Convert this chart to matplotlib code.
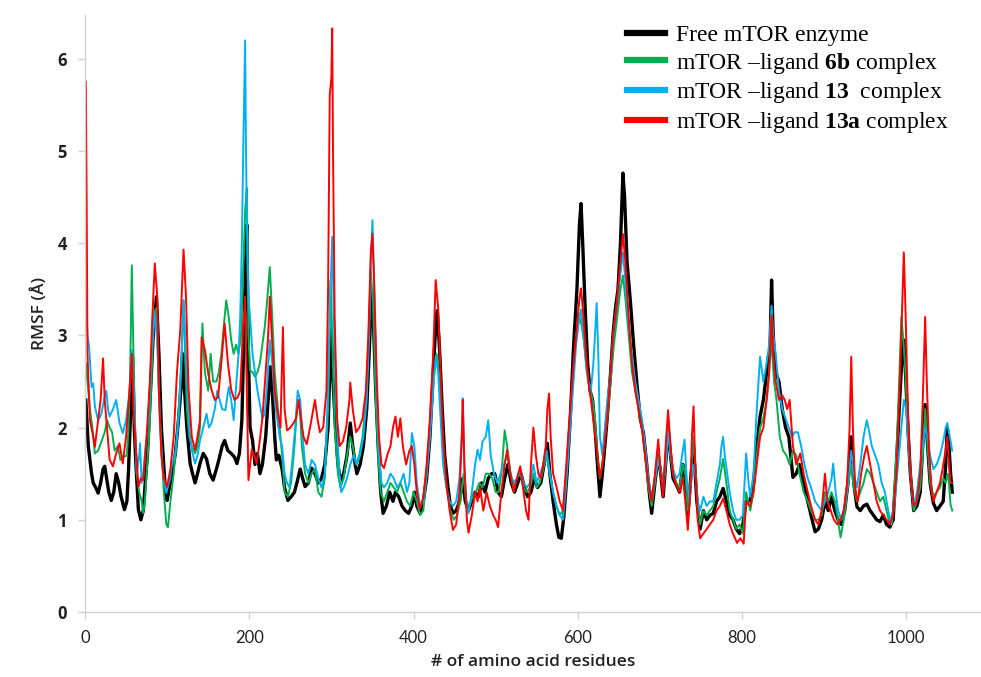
import matplotlib
matplotlib.use("Agg")
import matplotlib.pyplot as plt

# RMSF per residue as (residue, RMSF in Å)
free_pts = [(1,2.3),(4,1.8),(8,1.5),(10,1.4),(13,1.35),(16,1.29),(19,1.4),(22,1.55),(24,1.58),(26,1.47),(29,1.3),(32,1.21),(35,1.3),(38,1.5),(41,1.4),(44,1.25),(48,1.11),(51,1.2),(53,1.54),(56,2.26),(58,2.77),(60,2.0),(62,1.6),(65,1.11),(68,1.0),(71,1.1),(73,1.36),(76,1.7),(79,2.26),(83,2.99),(87,3.42),(90,2.8),(93,2.0),(95,1.72),(98,1.3),(100,1.21),(103,1.36),(106,1.5),(110,1.72),(114,2.1),(117,2.44),(119,2.8),(121,2.44),(124,2.0),(128,1.61),(131,1.5),(134,1.4),(137,1.5),(140,1.61),(144,1.72),(148,1.66),(152,1.5),(156,1.43),(160,1.55),(163,1.65),(167,1.8),(170,1.86),(174,1.75),(178,1.72),(182,1.68),(185,1.61),(188,1.72),(191,2.08),(193,2.8),(195,3.6),(197,4.2),(199,2.8),(201,2.0),(204,1.86),(207,1.6),(210,1.72),(213,1.5),(216,1.6),(220,1.9),(223,2.3),(226,2.66),(228,2.4),(231,1.9),(233,1.65),(236,1.7),(240,1.55),(243,1.35),(247,1.21),(251,1.25),(255,1.3),(258,1.4),(262,1.55),(265,1.45),(268,1.36),(272,1.4),(276,1.56),(280,1.5),(284,1.4),(288,1.45),(292,1.6),(296,2.0),(298,2.6),(300,3.06),(302,2.5),(305,2.0),(308,1.6),(311,1.43),(315,1.5),(319,1.7),(323,2.05),(326,1.8),(329,1.6),(331,1.5),(335,1.6),(339,1.8),(343,2.2),(346,2.8),(349,3.5),(351,3.2),(354,2.4),(357,1.8),(360,1.3),(363,1.07),(367,1.15),(371,1.3),(375,1.2),(378,1.3),(382,1.25),(386,1.15),(390,1.1),(394,1.07),(398,1.15),(401,1.3),(404,1.15),(408,1.07),(412,1.2),(416,1.45),(420,1.9),(424,2.6),(427,3.1),(429,3.27),(432,2.8),(435,2.2),(438,1.7),(442,1.35),(445,1.15),(448,1.07),(452,1.1),(456,1.2),(460,1.45),(463,1.2),(467,1.1),(471,1.2),(475,1.3),(479,1.25),(483,1.4),(487,1.3),(491,1.45),(495,1.5),(499,1.5),(503,1.3),(507,1.25),(511,1.45),(515,1.6),(519,1.4),(523,1.3),(527,1.4),(531,1.5),(535,1.35),(539,1.25),(543,1.3),(547,1.45),(551,1.35),(555,1.4),(559,1.6),(563,1.83),(566,1.5),(570,1.2),(574,0.95),(577,0.81),(580,0.8),(583,1.03),(587,1.5),(591,2.12),(595,2.9),(599,3.5),(602,4.2),(604,4.43),(606,4.0),(609,3.3),(612,2.7),(615,2.4),(618,2.3),(621,2.0),(624,1.6),(627,1.25),(630,1.5),(633,1.8),(636,2.12),(640,2.6),(643,3.02),(646,3.3),(649,3.5),(652,4.0),(655,4.76),(657,4.5),(660,3.8),(664,3.38),(668,2.9),(672,2.48),(676,2.1),(680,1.94),(684,1.6),(687,1.3),(690,1.07),(694,1.4),(698,1.7),(701,1.5),(704,1.25),(707,1.6),(710,2.0),(713,1.7),(716,1.45),(720,1.38),(724,1.3),(728,1.6),(731,1.45),(734,1.05),(738,1.5),(741,1.8),(745,1.2),(749,0.9),(753,1.1),(757,1.0),(761,1.05),(765,1.07),(769,1.2),(773,1.25),(777,1.34),(781,1.2),(785,1.05),(789,1.0),(793,0.9),(797,0.85),(801,0.95),(805,1.2),(810,1.21),(814,1.4),(818,1.8),(822,2.12),(826,2.3),(830,2.6),(832,2.77),(834,2.8),(836,3.6),(838,3.0),(841,2.6),(845,2.5),(849,2.2),(853,2.0),(857,1.9),(862,1.46),(866,1.5),(870,1.6),(875,1.4),(880,1.2),(884,1.05),(889,0.87),(893,0.9),(897,1.0),(901,1.2),(905,1.1),(909,1.25),(913,1.1),(917,1.0),(921,0.95),(925,1.1),(929,1.4),(933,1.9),(936,1.4),(940,1.14),(944,1.1),(948,1.15),(952,1.17),(956,1.1),(960,1.05),(964,1.0),(968,0.98),(972,1.05),(976,0.95),(980,0.92),(984,1.0),(988,1.6),(992,2.3),(995,2.8),(997,2.95),(999,2.6),(1002,2.0),(1005,1.5),(1009,1.1),(1013,1.15),(1017,1.3),(1020,1.8),(1023,2.25),(1026,1.8),(1029,1.4),(1033,1.18),(1037,1.1),(1041,1.15),(1045,1.2),(1048,1.6),(1050,2.0),(1052,1.8),(1054,1.5),(1056,1.3)]

lig6b_pts = [(1,2.7),(3,2.5),(6,2.2),(9,2.0),(12,1.72),(16,1.75),(20,1.85),(24,1.95),(27,2.08),(30,2.0),(33,1.95),(36,1.75),(40,1.8),(43,1.65),(47,1.68),(51,1.7),(53,2.0),(55,2.6),(57,3.76),(59,2.8),(61,2.0),(63,1.5),(66,1.3),(69,1.2),(71,1.07),(73,1.2),(75,1.5),(79,2.08),(84,3.24),(87,3.3),(90,2.4),(93,1.8),(96,1.3),(99,0.95),(101,0.92),(104,1.2),(108,1.5),(112,1.9),(116,2.5),(118,2.9),(120,3.38),(122,2.8),(124,2.2),(127,1.9),(130,1.8),(134,1.72),(137,1.8),(140,2.0),(143,3.13),(146,2.6),(150,2.4),(153,2.8),(156,2.5),(160,2.5),(163,2.6),(166,2.8),(169,3.1),(172,3.38),(175,3.2),(178,2.95),(181,2.8),(184,2.9),(187,2.8),(190,3.0),(193,3.8),(195,4.35),(197,4.6),(199,3.0),(201,2.62),(204,2.6),(207,2.55),(210,2.6),(213,2.7),(216,2.9),(219,3.1),(222,3.4),(225,3.74),(228,3.2),(231,2.6),(234,2.3),(237,2.0),(240,1.7),(243,1.3),(247,1.25),(251,1.4),(255,1.8),(258,2.2),(261,2.3),(264,1.8),(268,1.5),(272,1.4),(276,1.5),(280,1.55),(284,1.3),(288,1.25),(292,1.45),(296,2.2),(299,3.6),(301,3.0),(304,2.0),(308,1.5),(311,1.35),(315,1.45),(319,1.7),(323,1.9),(326,1.8),(330,1.6),(334,1.7),(338,1.9),(342,2.3),(345,2.9),(348,3.7),(351,3.3),(354,2.3),(357,1.7),(360,1.3),(364,1.2),(368,1.3),(372,1.4),(376,1.35),(380,1.3),(384,1.4),(388,1.3),(392,1.2),(396,1.15),(400,1.3),(404,1.2),(408,1.05),(412,1.1),(416,1.5),(420,2.0),(424,2.5),(428,2.8),(431,2.6),(434,2.1),(437,1.6),(441,1.3),(445,1.1),(449,1.0),(453,1.05),(457,1.2),(461,1.5),(464,1.2),(468,1.15),(472,1.25),(476,1.3),(480,1.4),(484,1.35),(488,1.5),(492,1.5),(496,1.45),(500,1.3),(504,1.3),(508,1.6),(511,1.97),(514,1.8),(518,1.5),(522,1.35),(526,1.45),(530,1.5),(534,1.35),(538,1.3),(542,1.35),(546,1.5),(550,1.35),(554,1.4),(558,1.55),(562,1.7),(566,1.5),(570,1.3),(574,1.15),(578,1.05),(582,1.1),(586,1.5),(590,2.0),(594,2.5),(598,3.0),(602,3.2),(605,3.1),(608,2.9),(611,2.6),(614,2.45),(618,2.3),(621,2.1),(624,1.7),(627,1.45),(630,1.6),(633,1.9),(636,2.1),(640,2.5),(644,2.9),(648,3.2),(652,3.5),(655,3.65),(658,3.4),(662,3.0),(666,2.6),(670,2.4),(674,2.2),(678,2.0),(682,1.7),(686,1.35),(690,1.15),(694,1.4),(698,1.7),(701,1.55),(704,1.3),(707,1.6),(710,2.0),(713,1.7),(716,1.5),(720,1.4),(724,1.35),(728,1.6),(731,1.5),(734,1.1),(738,1.5),(741,1.9),(745,1.3),(749,0.95),(753,1.1),(757,1.05),(761,1.1),(765,1.15),(769,1.3),(773,1.45),(777,1.66),(781,1.4),(785,1.1),(789,1.0),(793,0.9),(797,0.95),(801,0.85),(805,1.3),(810,1.1),(814,1.3),(818,1.7),(822,2.0),(826,2.1),(830,2.3),(833,2.6),(836,2.94),(839,2.5),(842,2.3),(846,1.9),(850,1.75),(854,1.7),(858,1.6),(862,1.75),(866,1.7),(870,1.5),(875,1.3),(880,1.2),(884,1.1),(889,1.0),(893,1.0),(897,1.05),(901,1.3),(905,1.2),(909,1.3),(913,1.2),(917,1.0),(920,0.81),(924,1.0),(928,1.3),(933,1.6),(936,1.35),(940,1.2),(944,1.3),(948,1.4),(952,1.55),(956,1.5),(960,1.4),(964,1.3),(968,1.2),(972,1.25),(976,1.1),(980,0.95),(984,1.1),(988,1.73),(991,2.4),(994,3.2),(996,3.0),(999,2.6),(1002,1.9),(1005,1.5),(1009,1.1),(1013,1.2),(1017,1.35),(1020,1.7),(1023,2.2),(1026,1.8),(1029,1.4),(1033,1.25),(1037,1.3),(1041,1.35),(1045,1.45),(1048,1.4),(1051,1.5),(1054,1.16),(1056,1.1)]

lig13_pts = [(1,3.46),(3,3.0),(5,2.88),(8,2.44),(10,2.48),(12,2.23),(16,2.08),(20,2.15),(23,2.3),(26,2.4),(28,2.2),(30,2.12),(34,2.2),(38,2.3),(42,2.05),(46,1.94),(50,2.08),(54,2.37),(57,2.84),(59,2.44),(63,1.5),(66,1.7),(67,1.83),(69,1.4),(71,1.5),(73,1.72),(77,2.08),(81,2.8),(85,3.24),(88,2.95),(91,2.08),(94,1.6),(96,1.45),(99,1.29),(103,1.43),(106,1.6),(110,1.72),(114,2.1),(117,2.6),(120,3.38),(123,2.8),(127,2.0),(130,1.76),(134,1.61),(137,1.7),(140,1.86),(144,2.0),(148,2.15),(151,2.0),(154,2.05),(158,2.2),(161,2.4),(164,2.3),(167,2.2),(171,2.19),(175,2.44),(178,2.3),(181,2.08),(184,2.45),(187,2.8),(189,3.2),(191,4.0),(193,5.2),(195,6.2),(196,5.0),(197,4.34),(199,3.4),(201,3.2),(204,2.8),(207,2.6),(210,2.4),(213,2.25),(216,2.1),(219,2.15),(222,2.5),(225,2.95),(228,2.7),(231,2.3),(234,2.1),(237,1.9),(240,1.8),(243,1.5),(246,1.4),(249,1.35),(252,1.6),(256,2.0),(259,2.4),(262,2.3),(265,1.9),(268,1.6),(272,1.5),(276,1.65),(280,1.6),(284,1.45),(288,1.35),(292,1.5),(296,2.4),(299,3.5),(301,4.07),(303,3.2),(306,2.2),(309,1.6),(312,1.3),(315,1.35),(319,1.45),(323,1.6),(327,1.7),(331,1.6),(335,1.7),(339,1.9),(343,2.3),(346,3.0),(348,3.8),(350,4.25),(352,3.6),(355,2.5),(358,1.7),(361,1.4),(364,1.35),(368,1.4),(372,1.5),(376,1.45),(380,1.35),(384,1.4),(388,1.5),(392,1.3),(395,1.4),(398,1.94),(401,1.8),(404,1.4),(408,1.15),(412,1.2),(416,1.5),(420,1.9),(424,2.4),(427,2.77),(430,2.6),(433,2.1),(436,1.6),(440,1.35),(444,1.2),(448,1.15),(452,1.2),(456,1.45),(459,2.0),(460,2.32),(462,1.5),(465,1.15),(467,1.07),(471,1.3),(475,1.6),(478,1.76),(481,1.65),(484,1.85),(488,1.9),(491,2.08),(494,1.7),(498,1.5),(502,1.4),(506,1.5),(510,1.6),(514,1.7),(518,1.5),(522,1.4),(526,1.45),(530,1.55),(534,1.4),(538,1.35),(542,1.4),(546,1.6),(550,1.4),(554,1.5),(558,1.6),(562,1.75),(566,1.5),(570,1.3),(574,1.15),(578,1.05),(582,1.0),(586,1.4),(590,1.9),(594,2.4),(598,2.9),(602,3.2),(604,3.28),(607,3.0),(610,2.7),(613,2.5),(616,2.4),(619,2.7),(621,3.0),(623,3.35),(625,2.8),(627,1.9),(630,1.7),(633,2.0),(636,2.3),(640,2.6),(643,3.0),(647,3.3),(651,3.6),(655,3.9),(658,3.6),(662,3.1),(666,2.8),(670,2.5),(674,2.3),(678,2.1),(682,1.8),(686,1.45),(690,1.25),(694,1.45),(698,1.65),(701,1.5),(704,1.35),(707,1.6),(710,1.95),(713,1.7),(716,1.55),(720,1.45),(724,1.5),(727,1.7),(730,1.87),(733,1.4),(736,1.2),(740,1.6),(743,1.5),(746,1.2),(749,1.1),(753,1.25),(757,1.15),(761,1.2),(765,1.2),(769,1.4),(773,1.6),(775,1.8),(777,1.9),(779,1.7),(782,1.5),(785,1.3),(789,1.1),(793,1.0),(797,1.0),(801,1.05),(805,1.72),(808,1.4),(810,1.25),(814,1.5),(818,2.2),(822,2.77),(826,2.5),(830,2.7),(833,2.9),(836,3.32),(838,3.0),(841,2.8),(845,2.4),(849,2.2),(853,2.1),(857,2.0),(861,1.9),(864,1.95),(868,1.95),(872,1.8),(876,1.6),(880,1.45),(884,1.35),(889,1.2),(893,1.15),(897,1.1),(901,1.2),(905,1.3),(909,1.45),(911,1.61),(914,1.3),(917,1.1),(921,1.0),(925,1.15),(929,1.4),(933,1.75),(936,1.5),(940,1.35),(944,1.6),(948,1.9),(952,2.08),(955,1.95),(958,1.8),(962,1.7),(966,1.6),(970,1.4),(974,1.3),(978,1.1),(982,0.95),(986,1.2),(990,1.6),(994,2.0),(997,2.3),(1000,2.2),(1003,1.8),(1006,1.4),(1009,1.15),(1013,1.3),(1017,1.6),(1020,1.8),(1023,2.0),(1026,1.9),(1029,1.7),(1033,1.55),(1037,1.6),(1041,1.7),(1045,1.85),(1048,2.0),(1050,2.05),(1053,1.9),(1056,1.75)]

lig13a_pts = [(1,5.75),(2,4.5),(3,2.8),(6,2.08),(10,1.9),(12,1.79),(16,2.08),(19,2.3),(22,2.75),(24,2.3),(26,2.08),(30,1.65),(34,1.58),(38,1.72),(42,1.83),(46,1.61),(50,1.9),(54,2.37),(57,2.8),(59,2.2),(61,1.9),(65,1.36),(68,1.45),(71,1.43),(75,1.9),(79,2.5),(82,3.2),(85,3.78),(88,3.42),(90,2.4),(93,1.7),(96,1.45),(100,1.36),(104,1.55),(108,1.9),(112,2.6),(116,3.06),(120,3.93),(123,3.42),(126,2.44),(130,1.9),(134,1.76),(137,1.9),(140,2.08),(142,2.98),(146,2.84),(150,2.59),(154,2.41),(158,2.3),(162,2.33),(166,2.7),(170,3.13),(174,2.7),(178,2.41),(182,2.3),(186,2.33),(189,2.4),(192,3.0),(195,3.42),(197,2.4),(199,1.43),(201,1.6),(203,1.76),(206,1.7),(209,1.61),(212,1.8),(216,2.1),(220,2.6),(223,3.0),(225,3.42),(228,2.9),(231,2.4),(234,2.2),(238,2.0),(241,3.09),(243,2.2),(246,1.97),(250,2.0),(254,2.05),(257,2.1),(260,2.3),(263,2.1),(266,1.9),(270,1.82),(274,2.0),(278,2.2),(280,2.3),(283,2.1),(286,1.95),(290,2.0),(294,2.4),(296,3.5),(298,5.6),(300,5.8),(301,6.33),(302,5.0),(304,3.2),(307,2.1),(310,1.8),(314,1.85),(318,2.0),(322,2.3),(323,2.49),(326,2.2),(330,1.95),(334,2.0),(338,2.1),(342,2.4),(345,3.0),(348,3.9),(350,4.1),(352,3.6),(355,2.6),(358,1.9),(361,1.6),(364,1.56),(368,1.7),(372,1.8),(375,2.0),(378,2.12),(381,1.9),(384,2.1),(387,1.8),(391,1.6),(395,1.75),(398,1.8),(401,1.6),(404,1.3),(408,1.12),(412,1.25),(416,1.6),(420,2.1),(424,2.8),(427,3.6),(430,3.3),(433,2.6),(436,1.9),(440,1.4),(444,1.1),(448,0.89),(452,0.95),(456,1.3),(459,1.9),(460,2.3),(462,1.6),(465,1.0),(467,0.86),(471,1.05),(475,1.3),(478,1.2),(481,1.35),(485,1.1),(489,1.3),(493,1.15),(497,1.05),(500,1.0),(503,0.92),(507,1.3),(511,1.6),(514,1.76),(518,1.5),(522,1.3),(526,1.45),(530,1.58),(534,1.3),(537,1.1),(540,1.0),(543,1.6),(546,2.0),(549,1.7),(552,1.5),(555,1.45),(558,1.6),(561,1.8),(563,2.2),(565,2.37),(567,1.9),(570,1.5),(574,1.36),(578,1.2),(582,1.1),(586,1.6),(590,2.1),(594,2.6),(598,3.0),(602,3.4),(604,3.51),(607,3.2),(610,2.8),(613,2.5),(616,2.3),(620,2.0),(624,1.7),(627,1.46),(630,1.6),(633,1.85),(636,2.12),(640,2.6),(643,3.0),(647,3.3),(651,3.7),(655,4.1),(658,3.8),(662,3.2),(666,2.7),(670,2.4),(674,2.2),(678,2.0),(682,1.7),(686,1.4),(690,1.2),(694,1.5),(698,1.87),(701,1.5),(704,1.25),(707,1.8),(710,2.19),(713,1.8),(716,1.5),(720,1.38),(724,1.3),(728,1.45),(731,1.2),(734,0.89),(737,1.3),(739,1.9),(741,2.23),(743,1.6),(746,1.0),(749,0.8),(753,0.85),(757,0.9),(761,0.95),(765,1.0),(769,1.1),(773,1.15),(777,1.23),(781,1.1),(785,0.95),(789,0.85),(794,0.75),(798,0.8),(802,0.74),(805,1.2),(810,1.15),(814,1.3),(818,1.6),(822,1.9),(826,2.0),(830,2.3),(833,2.6),(836,3.22),(838,2.8),(841,2.5),(845,2.3),(849,2.35),(852,2.3),(855,2.2),(858,2.3),(862,1.8),(866,1.6),(871,1.72),(875,1.5),(880,1.3),(884,1.15),(889,1.0),(893,0.95),(897,1.1),(901,1.5),(904,1.2),(908,1.1),(912,1.0),(916,0.95),(920,1.0),(924,1.1),(928,1.4),(931,2.0),(933,2.77),(935,2.0),(938,1.3),(941,1.2),(945,1.5),(949,1.7),(952,1.8),(956,1.6),(960,1.4),(964,1.2),(968,1.1),(972,1.05),(976,1.0),(980,0.95),(984,1.05),(988,1.5),(991,2.2),(994,3.0),(997,3.9),(999,3.3),(1002,2.2),(1005,1.5),(1009,1.15),(1013,1.2),(1017,1.5),(1020,2.27),(1023,3.2),(1025,2.5),(1028,1.7),(1031,1.3),(1033,1.2),(1037,1.3),(1041,1.4),(1044,1.54),(1047,1.7),(1050,1.9),(1052,1.6),(1054,1.4),(1056,1.4)]

series = [
    (free_pts, "#000000", 2.4, "Free mTOR enzyme"),
    (lig6b_pts, "#00b050", 1.4, r"mTOR –ligand $\mathbf{6b}$ complex"),
    (lig13_pts, "#00b0f0", 1.4, r"mTOR –ligand $\mathbf{13}$  complex"),
    (lig13a_pts, "#ff0000", 1.4, r"mTOR –ligand $\mathbf{13a}$ complex"),
]

plt.rcParams["mathtext.fontset"] = "custom"
plt.rcParams["mathtext.rm"] = "Liberation Serif"
plt.rcParams["mathtext.bf"] = "Liberation Serif:bold"

fig = plt.figure(figsize=(9.81, 6.77), dpi=100)
ax = fig.add_axes([85/981, 65/677, 896/981, 597/677])

for pts, col, lw, lab in series:
    x = [p[0] for p in pts]
    y = [p[1] for p in pts]
    ax.plot(x, y, color=col, lw=lw, label=lab)

ax.set_xlim(0, 1091)
ax.set_ylim(0, 6.475)
ax.set_xticks([0, 200, 400, 600, 800, 1000])
ax.set_yticks([0, 1, 2, 3, 4, 5, 6])
for s in ["top", "right"]:
    ax.spines[s].set_visible(False)
for s in ["left", "bottom"]:
    ax.spines[s].set_color("#d0d0d0")
    ax.spines[s].set_linewidth(1)
ax.tick_params(axis="both", colors="#d0d0d0", length=5, width=1, pad=8)
for t in ax.get_yticklabels():
    t.set_color("#222222")
    t.set_fontfamily("Open Sans")
    t.set_fontweight("bold")
    t.set_fontsize(12)
for t in ax.get_xticklabels():
    t.set_color("#222222")
    t.set_fontfamily("Lato")
    t.set_fontsize(12)

ax.set_xlabel("# of amino acid residues", fontfamily="Open Sans", fontweight="semibold",
              fontsize=12.5, color="#222222", labelpad=6)
ax.set_ylabel("RMSF (Å)", fontfamily="Open Sans", fontweight="semibold",
              fontsize=12.5, color="#222222", labelpad=7)

leg = ax.legend(loc="upper right", bbox_to_anchor=(0.975, 1.0), borderaxespad=0, frameon=False,
                prop={"family": "Liberation Serif", "size": 17},
                handlelength=1.6, handletextpad=0.5, labelspacing=0.2)
for h in leg.get_lines():
    h.set_linewidth(4.5)

fig.savefig("out.png", dpi=100)
